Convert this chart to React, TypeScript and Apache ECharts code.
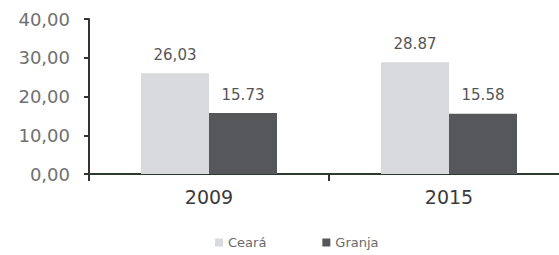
import React, { useEffect, useRef } from "react";
import * as echarts from "echarts";

const categories = ["2009", "2015"];
const ceara = [26.03, 28.87];
const granja = [15.73, 15.58];
const cearaLabels = ["26,03", "28.87"];
const granjaLabels = ["15.73", "15.58"];
const seriesNames = ["Ceará", "Granja"];

export default function App() {
  const ref = useRef<HTMLDivElement>(null);
  useEffect(() => {
    if (!ref.current) return;
    const chart = echarts.init(ref.current, null, { renderer: "svg" });
    const font = "DejaVu Sans, Verdana, sans-serif";
    chart.setOption({
      animation: false,
      backgroundColor: "#ffffff",
      grid: { left: 89, right: 0, top: 19, height: 155, containLabel: false },
      legend: {
        bottom: 1,
        left: 210,
        itemWidth: 8,
        itemHeight: 8,
        itemGap: 56,
        itemStyle: { borderWidth: 0 },
        icon: "rect",
        textStyle: { fontFamily: font, fontSize: 13, color: "#6a6a6a" },
        data: seriesNames,
      },
      xAxis: {
        type: "category",
        data: categories,
        axisLine: { lineStyle: { color: "#2f3a2f", width: 2 } },
        axisTick: { show: true, length: 7, lineStyle: { color: "#333", width: 2 } },
        axisLabel: { fontFamily: font, fontSize: 19, color: "#3a3a3a", margin: 13 },
      },
      yAxis: [
        {
          type: "value",
          min: 0,
          max: 40,
          interval: 10,
          splitLine: { show: false },
          axisLine: { show: true, lineStyle: { color: "#333", width: 2 } },
          axisTick: { show: true, length: 5, lineStyle: { color: "#333", width: 2 } },
          axisLabel: {
            fontFamily: font,
            fontSize: 18,
            color: "#707070",
            margin: 19,
            formatter: (v: number) => v.toFixed(2).replace(".", ","),
          },
        },
      ],
      series: [
        {
          name: seriesNames[0],
          type: "bar",
          data: ceara,
          barWidth: 68,
          barGap: "0%",
          itemStyle: { color: "#d8dadd" },
          label: {
            show: true,
            position: "top",
            distance: 11,
            fontFamily: font,
            fontSize: 15,
            color: "#555",
            formatter: (p: any) => cearaLabels[p.dataIndex],
          },
        },
        {
          name: seriesNames[1],
          type: "bar",
          data: granja,
          barWidth: 68,
          barGap: "0%",
          itemStyle: { color: "#56575a" },
          label: {
            show: true,
            position: "top",
            distance: 11,
            fontFamily: font,
            fontSize: 15,
            color: "#555",
            formatter: (p: any) => granjaLabels[p.dataIndex],
          },
        },
      ],
    });
    return () => chart.dispose();
  }, []);
  return (
    <div style={{ width: 559, height: 255, position: "fixed", left: 0, top: 0, overflow: "hidden", background: "#fff" }}>
      <div ref={ref} style={{ width: 569, height: 255 }} />
    </div>
  );
}
